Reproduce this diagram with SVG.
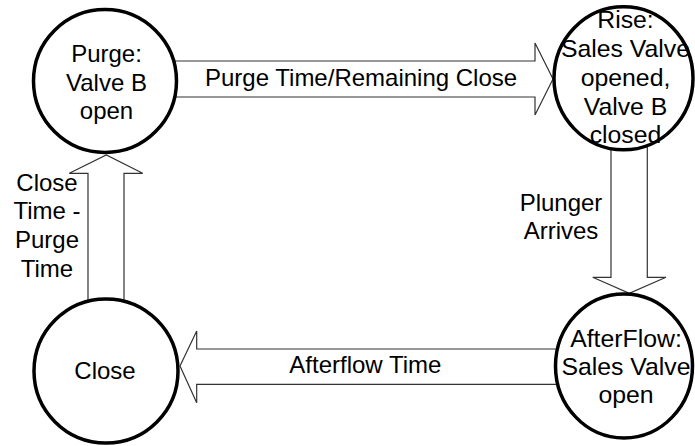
<svg xmlns="http://www.w3.org/2000/svg" width="695" height="446" viewBox="0 0 695 446">
<style>
.arrow{fill:#ffffff;stroke:#333333;stroke-width:1.2;stroke-linejoin:miter}
.node{fill:#ffffff;stroke:#000000;stroke-width:3.5}
text{font-family:"Liberation Sans",Arial,sans-serif;font-size:24px;fill:#000000}
.c{text-anchor:middle}
.w{font-size:24.8px}
</style>
<rect width="695" height="446" fill="#ffffff"/>
<g id="connectors">
<path class="arrow" d="M165,61 H535 V43 L553,79 L535,115 V97 H165 Z"/>
<path class="arrow" d="M611,140 V277.3 H592.7 L629.3,293.3 L666,277.3 H647.3 V140 Z"/>
<path class="arrow" d="M565,349 H196.7 V331 L180,366 L196.7,402.7 V384.3 H565 Z"/>
<path class="arrow" d="M88,310 V173.3 H69.3 L106.3,155 L142.7,173.3 H124 V310 Z"/>
<text x="205" y="86">Purge Time/Remaining Close</text>
<text class="c" x="561" y="210.7">Plunger</text>
<text class="c" x="561" y="239.3">Arrives</text>
<text x="289.3" y="373.3">Afterflow Time</text>
<text class="c" x="47" y="190.7">Close</text>
<text class="c" x="47" y="219">Time -</text>
<text class="c" x="47" y="248.3">Purge</text>
<text class="c" x="47" y="277.3">Time</text>
</g>
<g id="purge">
<circle class="node" cx="105" cy="81" r="71.5"/>
<text class="c" x="106.5" y="62">Purge:</text>
<text class="c" x="106.5" y="90.5">Valve B</text>
<text class="c" x="106.5" y="119">open</text>
</g>
<g id="rise">
<ellipse class="node" cx="623.5" cy="78.3" rx="69.5" ry="71.5"/>
<text class="c w" x="625.5" y="28.3">Rise:</text>
<text class="c w" x="625.5" y="56.7">Sales Valve</text>
<text class="c w" x="625.5" y="86">opened,</text>
<text class="c w" x="625.5" y="115">Valve B</text>
<text class="c w" x="625.5" y="143.3">closed</text>
</g>
<g id="afterflow">
<ellipse class="node" cx="624" cy="366" rx="68.5" ry="72"/>
<text class="c w" x="626" y="346.7">AfterFlow:</text>
<text class="c w" x="626" y="375">Sales Valve</text>
<text class="c w" x="626" y="403.3">open</text>
</g>
<g id="close">
<circle class="node" cx="106" cy="371" r="72"/>
<text class="c" x="105" y="379.3">Close</text>
</g>
</svg>
